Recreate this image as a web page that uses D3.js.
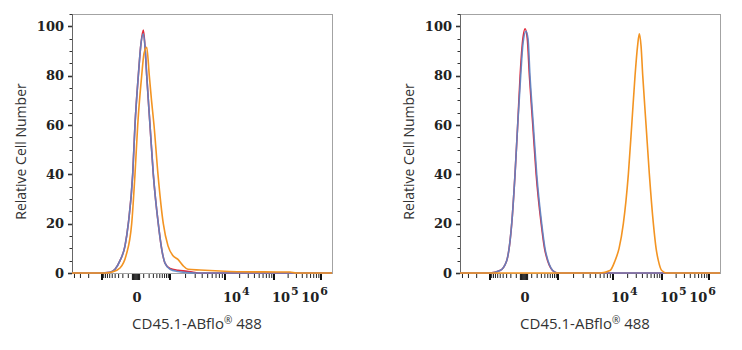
<!DOCTYPE html>
<html><head><meta charset="utf-8">
<script src="https://cdn.jsdelivr.net/npm/d3@7"></script>
<style>body{margin:0;background:#fff}svg{display:block}</style>
</head><body>
<svg id="c" width="742" height="350"></svg>
<script>
// ---------- data ----------
const yTickValues = [0, 20, 40, 60, 80, 100];
const xTickLabels = [{v: 0, base: "0", exp: ""}, {v: 1e4, base: "10", exp: "4"}, {v: 1e5, base: "10", exp: "5"}, {v: 1e6, base: "10", exp: "6"}];
const xMajorTicks = [-1000, 1000, 1e4, 1e5, 1e6];
const xTitle = "CD45.1-ABflo";
const yTitle = "Relative Cell Number";

// left panel  [intensity, relative count]
const leftRed = [[-4500,0],[-1116,0],[-587,0.3],[-404,1.5],[-265,5],[-157,11],[-100,20],[-38,40],[-11,60],[26,80],[60,93],[94,98.5],[121,92],[152,80],[218,60],[298,40],[447,20],[587,9],[722,4],[1000,1.8],[1436,1.1],[2122,0.7],[2978,0.2],[3600,0],[1.7e6,0]];
const leftBlue = [[-4500,0],[-1116,0],[-587,0.3],[-404,1.5],[-265,5],[-157,11],[-100,20],[-38,40],[-11,60],[26,80],[60,93],[94,97],[121,92],[152,80],[218,60],[298,40],[447,20],[587,9],[722,4],[1000,1.5],[1436,0.6],[2122,0.2],[2978,0],[1.7e6,0]];
const leftOrange = [[-4500,0],[-824,0],[-471,0.5],[-265,2],[-139,7],[-51,20],[-11,40],[19,60],[70,80],[105,89],[152,91.5],[203,80],[253,70],[316,60],[437,40],[643,20],[880,11],[1149,7],[1436,5.5],[1791,3],[2216,1.5],[3656,1.2],[8214,0.8],[20360,0.5],[219600,0.4],[300000,0],[1.7e6,0]];

// right panel
const rightRed = [[-4500,0],[-1000,0],[-508,1],[-298,5],[-182,20],[-121,40],[-79,60],[-45,80],[-18,93],[12,99],[38,95],[66,80],[118,60],[180,40],[295,20],[390,10],[495,5],[620,2],[824,0.3],[1000,0],[1.7e6,0]];
const rightBlue = [[-4500,0],[-1000,0],[-508,1],[-298,5],[-182,20],[-121,40],[-79,60],[-38,80],[-11,93],[22,98],[47,95],[74,80],[127,60],[191,40],[308,20],[404,10],[508,5],[630,2],[824,0.3],[1000,0],[1.7e6,0]];
const rightOrange = [[-4500,0],[5952,0],[8880,1],[11020,5],[13330,10],[16320,20],[20660,40],[24240,60],[28310,80],[31850,92],[34630,97],[37550,92],[40630,80],[47440,60],[55380,40],[66800,20],[75840,10],[84340,5],[98900,1],[126300,0],[1.7e6,0]];

const panels = [
  {left: 72, series: [leftRed, leftBlue, leftOrange]},
  {left: 460, series: [rightRed, rightBlue, rightOrange]}
];
const seriesColors = ["#e2283a", "#5a86c8", "#f39422"];
const seriesOpacity = [1, 0.9, 1];

// ---------- layout ----------
const W = 260, plotTop = 14, plotBottom = 273;
const svg = d3.select("#c");

// logicle-like display transform
const g = v => Math.sign(v) * Math.log10(1 + Math.abs(v) / 200);
const anchorVals = [-4500, -1000, 0, 1000, 1e4, 1e5, 1e6, 1.7e6];
const anchorFrac = [0, 30, 64, 98, 153, 202, 249, 260].map(p => p / 260);

const y = d3.scaleLinear().domain([0, 105]).range([plotBottom, plotTop]);

function minorTicks() {
  const t = [];
  for (let k = 2; k <= 4; k++) t.push(-k * 1000);
  for (let k = 1; k <= 9; k++) { t.push(-k * 100, k * 100); }
  for (let k = 1; k <= 4; k++) { t.push(-k * 10, k * 10); }
  t.push(0);
  for (let k = 2; k <= 9; k++) t.push(k * 1000, k * 1e4, k * 1e5);
  return t;
}

panels.forEach(p => {
  const L = p.left, R = L + W;
  const xg = d3.scaleLinear().domain(anchorVals.map(g)).range(anchorFrac.map(f => L + f * W));
  const x = v => xg(g(v));
  const G = svg.append("g");

  // frame
  G.append("rect").attr("x", L + 0.5).attr("y", plotTop + 0.5).attr("width", W).attr("height", plotBottom - plotTop)
    .attr("fill", "none").attr("stroke", "#a3a3a3").attr("stroke-width", 1);
  G.append("line").attr("x1", L + 0.5).attr("x2", L + 0.5).attr("y1", plotTop).attr("y2", plotBottom + 1)
    .attr("stroke", "#666");

  // y ticks
  const yMinor = d3.range(0, 106, 5);
  G.selectAll(".ym").data(yMinor).join("line")
    .attr("x1", d => L - (d % 20 === 0 ? 4 : 2.5)).attr("x2", L)
    .attr("y1", d => Math.round(y(d)) + 0.5).attr("y2", d => Math.round(y(d)) + 0.5)
    .attr("stroke", "#333").attr("stroke-width", d => d % 20 === 0 ? 1.6 : 1);
  G.selectAll(".yl").data(yTickValues).join("text")
    .attr("x", L - 8).attr("y", d => y(d)).attr("dy", "0.36em")
    .attr("text-anchor", "end").attr("font-family", "DejaVu Serif").attr("font-size", 13)
    .attr("font-weight", "bold").attr("fill", "#222").text(d => d);

  // x ticks
  G.selectAll(".xm").data(minorTicks()).join("line")
    .attr("x1", d => x(d)).attr("x2", d => x(d))
    .attr("y1", plotBottom + 1).attr("y2", d => Math.abs(d) < 100 ? plotBottom + 7 : plotBottom + 5)
    .attr("stroke", "#222").attr("stroke-width", d => Math.abs(d) < 100 ? 1.3 : 1);
  G.selectAll(".xM").data(xMajorTicks).join("line")
    .attr("x1", d => x(d)).attr("x2", d => x(d))
    .attr("y1", plotBottom + 1).attr("y2", plotBottom + 7)
    .attr("stroke", "#111").attr("stroke-width", 2);

  // x tick labels
  xTickLabels.forEach(t => {
    const tx = G.append("text").attr("y", 301.5).attr("font-family", "DejaVu Serif")
      .attr("font-size", 13).attr("font-weight", "bold").attr("fill", "#222");
    tx.append("tspan").text(t.base);
    if (t.exp) tx.append("tspan").attr("dy", -7).attr("dx", 1).attr("font-size", 11).text(t.exp);
    if (!t.exp) {
      tx.attr("x", x(t.v) + 1).attr("text-anchor", "middle");
    } else {
      tx.attr("x", x(t.v) - 2).attr("text-anchor", "start");
      const w = tx.node().getComputedTextLength();
      if (x(t.v) - 2 + w > R - 4) tx.attr("x", R - 4).attr("text-anchor", "end");
    }
  });

  // curves
  const line = d3.line().x(d => x(d[0])).y(d => y(d[1])).curve(d3.curveMonotoneX);
  p.series.forEach((s, i) => {
    G.append("path").datum(s).attr("d", line).attr("fill", "none")
      .attr("stroke", seriesColors[i]).attr("stroke-width", 1.6).attr("stroke-opacity", seriesOpacity[i])
      .attr("stroke-linejoin", "round");
  });

  // titles
  const xt = G.append("text").attr("x", L + 125).attr("y", 328.5).attr("text-anchor", "middle")
    .attr("font-family", "Open Sans").attr("font-size", 15).attr("fill", "#333");
  xt.append("tspan").text(xTitle);
  xt.append("tspan").attr("font-size", 10).attr("dy", -5).text("\u00AE");
  xt.append("tspan").attr("dy", 5).text(" 488");

  G.append("text").attr("transform", `translate(${L - 46},${(plotTop + plotBottom) / 2 + 8}) rotate(-90)`)
    .attr("text-anchor", "middle").attr("font-family", "Open Sans").attr("font-size", 14)
    .attr("fill", "#333").text(yTitle);
});
</script>
</body></html>
